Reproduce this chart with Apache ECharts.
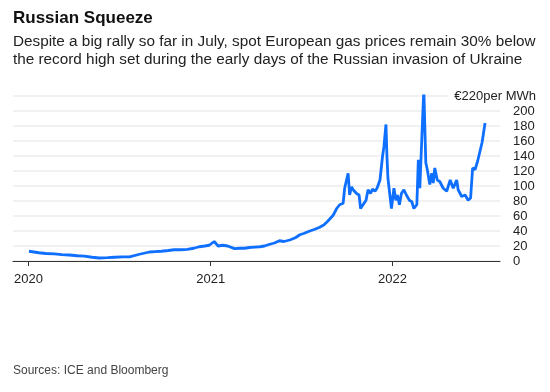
<!DOCTYPE html>
<html><head><meta charset="utf-8">
<script src="https://cdn.jsdelivr.net/npm/echarts@6/dist/echarts.min.js"></script>
<style>html,body{margin:0;padding:0;background:#fff}#c{width:550px;height:392px}</style>
</head><body><div id="c"></div>
<script>
const titleText = 'Russian Squeeze';
const subtitleText = 'Despite a big rally so far in July, spot European gas prices remain 30% below\nthe record high set during the early days of the Russian invasion of Ukraine';
const sourceText = 'Sources: ICE and Bloomberg';
const unitLabel = '€220per MWh';
const yMax = 220;
const yStep = 20;

const dates = [
 '2020-01-02','2020-01-12','2020-01-22','2020-02-05','2020-02-22','2020-03-08','2020-03-23','2020-04-08','2020-04-22','2020-05-08','2020-05-22','2020-06-08','2020-06-22','2020-07-08','2020-07-22','2020-08-11','2020-08-31','2020-09-12','2020-09-24','2020-10-08','2020-10-20','2020-11-02','2020-11-15','2020-11-28','2020-12-09','2020-12-20','2020-12-29',
 '2021-01-08','2021-01-11','2021-01-16','2021-01-25','2021-02-04','2021-02-18','2021-03-01','2021-03-10','2021-03-20','2021-03-30','2021-04-10','2021-04-19','2021-04-28','2021-05-09','2021-05-19','2021-05-28','2021-06-09','2021-06-20','2021-06-29','2021-07-08','2021-07-19','2021-07-28','2021-08-08','2021-08-16','2021-08-24','2021-09-04','2021-09-11','2021-09-17','2021-09-24','2021-09-27','2021-10-01','2021-10-04','2021-10-07','2021-10-11','2021-10-14','2021-10-18','2021-10-21','2021-10-26','2021-10-29','2021-11-03','2021-11-09','2021-11-13','2021-11-18','2021-11-22','2021-11-27','2021-12-01','2021-12-07','2021-12-12','2021-12-15','2021-12-19','2021-12-21','2021-12-23','2021-12-27','2021-12-30',
 '2022-01-04','2022-01-08','2022-01-11','2022-01-15','2022-01-19','2022-01-24','2022-01-29','2022-02-04','2022-02-09','2022-02-13','2022-02-19','2022-02-22','2022-02-25','2022-03-01','2022-03-05','2022-03-09','2022-03-12','2022-03-17','2022-03-21','2022-03-24','2022-03-27','2022-04-01','2022-04-06','2022-04-13','2022-04-20','2022-04-27','2022-05-03','2022-05-10','2022-05-13','2022-05-20','2022-05-27','2022-06-02','2022-06-07','2022-06-11','2022-06-16','2022-06-21','2022-06-25','2022-06-30','2022-07-06'
];
const prices = [
 13,12,11,10,9.5,8.5,8,7,6.5,5,4,4.5,5,5.5,5.5,9,12,12.5,13,14,15,15,15.5,17,19,20,21,
 26,24,20,21,20,16.5,17,17,18,18.5,19,20,22,24,27,26,28,31,35,37,40,42,45,48,53,61,70,75,77,97,99,117,88,99,95,93,90,88,70,75,81,95,90,96,93,97,108,139,153,182,139,110,108,70,
 97,81,88,75,90,95,88,81,79,70,75,135,97,164,229,131,122,102,117,104,124,108,106,97,93,108,97,108,95,86,88,81,84,124,122,133,131,158,184
];

const chart = echarts.init(document.getElementById('c'), null, {renderer: 'canvas'});
const FONT = '"Liberation Sans", Arial, Helvetica, sans-serif';
const YEAR = 365 * 24 * 3600 * 1000;

chart.setOption({
  animation: false,
  backgroundColor: '#fff',
  title: [
    {text: titleText, left: 13, top: 10, padding: 0, textStyle: {fontFamily: FONT, fontSize: 17, fontWeight: 'bold', color: '#111'}},
    {text: subtitleText, left: 13, top: 32.5, padding: 0, textStyle: {fontFamily: FONT, fontSize: 15.3, fontWeight: 'normal', color: '#222', lineHeight: 18.5}},
    {text: sourceText, left: 13, top: 365, padding: 0, textStyle: {fontFamily: FONT, fontSize: 12, fontWeight: 'normal', color: '#444'}}
  ],
  grid: {left: 13, right: 50, top: 96, bottom: 131, containLabel: false},
  xAxis: {
    type: 'time',
    min: '2019-12-01',
    max: '2022-08-05',
    minInterval: YEAR,
    maxInterval: YEAR + 2 * 24 * 3600 * 1000,
    axisLine: {show: true, lineStyle: {color: '#333', width: 1}},
    axisTick: {show: true, length: 5, lineStyle: {color: '#333'}},
    splitLine: {show: false},
    axisLabel: {fontFamily: FONT, fontSize: 13, color: '#222', margin: 12, formatter: function (v) { return String(new Date(v).getFullYear()); }}
  },
  yAxis: {
    type: 'value',
    position: 'right',
    min: 0, max: yMax, interval: yStep,
    axisLine: {show: false},
    axisTick: {show: false},
    splitLine: {show: true, lineStyle: {color: '#ececec', width: 1.5}},
    axisLabel: {fontFamily: FONT, fontSize: 13, color: '#222', margin: 13, align: 'left',
      formatter: function (v) { return v === yMax ? '' : String(v); }}
  },
  graphic: [
    {type: 'text', right: 14, top: 90, z: 100,
     style: {text: unitLabel, font: '13px ' + FONT, fill: '#222', backgroundColor: '#fff', padding: [0, 0, 0, 6]}}
  ],
  series: [{
    type: 'line',
    data: dates.map((d, i) => [d, prices[i]]),
    showSymbol: false,
    lineStyle: {color: '#0f6fff', width: 2.8},
    itemStyle: {color: '#0f6fff'}
  }]
});
</script></body></html>
